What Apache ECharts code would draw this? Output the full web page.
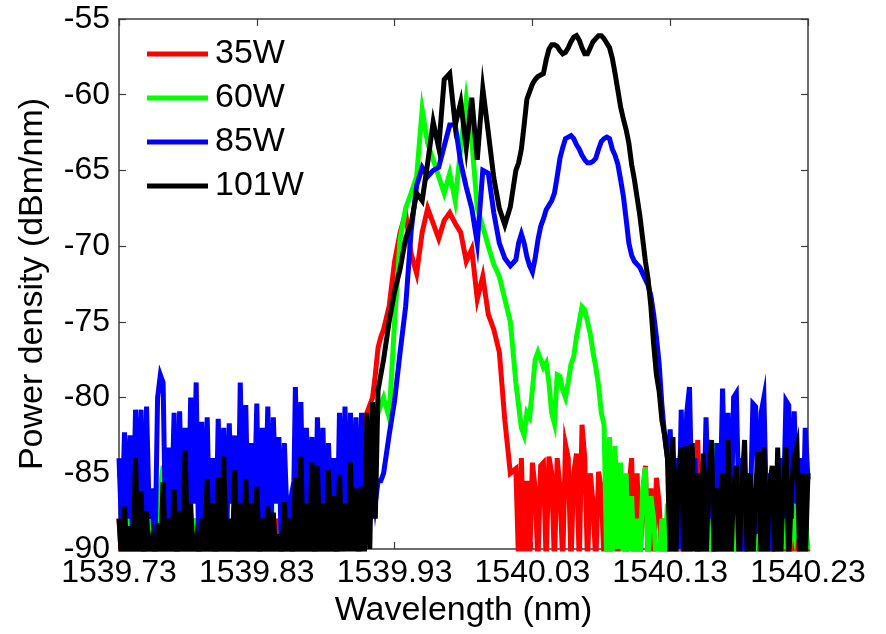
<!DOCTYPE html>
<html>
<head>
<meta charset="utf-8">
<script src="https://cdn.jsdelivr.net/npm/echarts@6/dist/echarts.min.js"></script>
<style>
html,body{margin:0;padding:0;background:#fff;}
#chart{width:886px;height:634px;}
</style>
</head>
<body>
<div id="chart"></div>
<script>
// Wavelength axis: offsets (pm) from the start wavelength 1539.73 nm
const wavelengthStartNm = 1539.73;
const wavelengthOffsetPm = [
  // segment A (fine)
  0,2,4,6,8,10,12,14,16,18,
  20,22,24,26,28,30,32,34,36,38,
  40,42,44,46,48,50,52,54,56,58,
  60,62,64,66,68,70,72,74,76,78,
  80,82,84,86,88,90,92,94,96,98,
  100,102,104,106,108,110,112,114,116,118,
  120,122,124,126,128,130,132,134,136,138,
  140,142,144,146,148,150,152,154,156,158,
  160,162,164,166,168,170,172,174,176,178,
  180,182,184,186,188,190,
  // segment B
  192,196,200,204,208,212,216,220,224,228,
  232,236,240,244,248,252,256,260,264,268,
  272,276,280,284,
  // segment C (fine)
  288,290,292,294,296,298,300,302,304,306,
  308,310,312,314,316,318,320,322,324,326,
  328,330,332,334,336,338,340,342,344,346,
  348,350,352,354,356,358,360,362,364,366,
  368,370,372,374,376,378,380,382,384,386,
  388,390,392,394,396,398,400,402,404,406,
  408,410,412,414,416,418,420,422,424,426,
  428,430,432,434,436,438,440,442,444,446,
  448,450,452,454,456,458,460,462,464,466,
  468,470,472,474,476,478,480,482,484,486,
  488,490,492,494,496,498,500
];
const xTickLabels = ['1539.73','1539.83','1539.93','1540.03','1540.13','1540.23'];
const seriesNames = ['35W','60W','85W','101W'];
const seriesColors = ['#ff0000','#00ff00','#0000ff','#000000'];

const p35W = [
  -88,-91,-89,-91,-88,-91,-87,-91,-89,-91,
  -88,-91,-89,-91,-88,-91,-89,-91,-87,-91,
  -88,-91,-89,-91,-88,-91,-89,-91,-88,-91,
  -89,-91,-88,-91,-87,-91,-89,-91,-88,-91,
  -89,-91,-88,-85.3,-91,-89,-91,-88,-91,-83,
  -91,-89,-91,-88,-91,-89,-91,-88,-91,-89,
  -91,-88,-91,-89,-91,-88,-91,-89,-91,-88,
  -91,-89,-91,-88,-91,-89,-91,-88,-91,-89,
  -88,-87,-86,-86,-85,-83.5,-84,-82,-82,-81.5,
  -81,-80.5,-80,-78.5,-76.7,-76,
  -75.5,-74,-71,-69.1,-67.8,-70.5,-71.8,-69.1,-67.5,-68.5,
  -69.5,-68.3,-67.8,-68.5,-69.1,-71,-70.2,-73.5,-72,-74.5,
  -75.5,-77,-81.5,-85,
  -84.7,-91,-84,-91,-85.5,-91,-84.3,-86,-91,-84.5,
  -84.3,-91,-83.9,-85,-91,-84,-86,-91,-83.1,-84,
  -91,-85,-83.7,-91,-81.8,-84,-91,-85,-87,-91,
  -84.9,-86,-91,-84.3,-91,-86,-88,-91,-87,-89,
  -91,-86,-84,-91,-85,-91,-87,-84.5,-91,-86,
  -91,-85.3,-87,-91,
  -88,-91,-87,-91,-89,-91,-88,-91,-87,-91,
  -88,-86,-82.8,-91,-88,-91,-89,-91,-87,-91,
  -88,-91,-88,-91,-87,-91,-89,-91,-88,-91,
  -88,-91,-87,-91,-88.5,-91,-88,-91,-87,-91,
  -89,-91,-88,-91,-87,-91,-88,-91,-89,-91,
  -88,-91,-90
];
const p60W = [
  -85,-85.5,-86,-91,-88,-91,-89,-91,-88,-91,
  -89,-91,-88,-91,-89,-86,-84.5,-91,-89,-91,
  -88,-91,-89,-91,-88,-91,-89,-91,-88,-91,
  -89,-91,-88,-91,-89,-84.5,-91,-88,-91,-89,
  -91,-88,-91,-89,-91,-88,-91,-89,-88,-83.7,
  -91,-89,-91,-88,-91.5,-84,-91,-89,-91,-88,
  -91,-89,-88,-91,-89,-91,-88,-91,-89,-91,
  -88,-91,-89,-91,-88,-91,-89,-91,-88,-91,
  -89,-91,-88,-87,-86,-86,-85,-84,-82.5,-83,
  -82,-82.5,-82,-81.5,-81,-80.5,
  -80,-81.3,-75,-69.5,-67.5,-66.5,-65.4,-61,-63.2,-64.3,
  -65.4,-66.5,-65.2,-67,-63.5,-60.3,-63,-67.5,-68.7,-70,
  -71.2,-72,-73.5,-75,
  -79,-80.5,-82,-82.5,-81,-81.3,-79.5,-77.5,-77,-77.5,
  -78,-77.7,-79,-81,-81.7,-78.5,-78.6,-79.5,-80,-79,
  -77.8,-77.3,-76,-75,-74,-74.2,-75,-75.8,-77,-78,
  -79.2,-81,-81.8,-91,-82.6,-91,-83.2,-90,-84.3,-91,
  -85,-91,-86.5,-91,-88,-91,-86,-84.6,-91,-86.5,
  -88,-91,-91,
  -88,-91,-87,-90,-86,-91,-89,-87,-91,-88,
  -86,-90,-88,-91,-87,-89,-86,-91,-88,-83,
  -86,-90,-88,-91,-87,-89,-86,-91,-88,-87,
  -90,-86,-91,-88,-89,-86,-91,-87,-88,-90,
  -86,-91,-88,-87,-90,-86,-91,-88,-89,-87,
  -90,-89,-88,-90
];
const p85W = [
  -84,-89,-82.3,-88,-82.5,-90,-80.8,-87,-80.8,-91,
  -80.6,-88,-86,-91,-80,-78.5,-79,-90,-83.3,-88,
  -81,-91,-80.9,-88,-82,-90,-80,-87,-79,-91,
  -81.6,-88,-81.3,-90,-84,-91,-81.4,-88,-82,-90,
  -81.7,-87,-82.5,-91,-79,-88,-80.5,-90,-83,-88,
  -80.4,-91,-82,-88,-80.6,-90,-81.3,-87,-82.6,-91,
  -83,-88,-87,-91,-79.3,-88,-80.3,-90,-82,-88,
  -82.6,-91,-81.3,-88,-82,-90,-83,-88,-84,-91,
  -81,-88,-80.6,-90,-81,-88,-81.3,-91,-81,-87,
  -84,-86,-85,-87,-85.5,-85.5,
  -85,-82.5,-80.2,-77,-74,-69,-66,-64.8,-65.4,-65,
  -64.8,-63.4,-62,-62,-64.5,-66.1,-67.5,-69.8,-65,-65.2,
  -67.8,-69.8,-70.8,-71.3,
  -70.9,-69.8,-69.2,-69.8,-70.7,-71.3,-71.7,-70.8,-69.6,-68.7,
  -68.2,-67.6,-67.3,-67,-66.5,-65.4,-64.2,-63.5,-62.9,-62.8,
  -62.7,-62.9,-63.3,-63.6,-64,-64.3,-64.5,-64.5,-64.4,-64.2,
  -63.6,-63.1,-62.9,-62.8,-62.9,-63.6,-64,-64.6,-65.6,-66.7,
  -68.2,-69.8,-70.6,-71,-71.2,-71.4,-71.8,-72.2,-72.6,-73.3,
  -74.5,-76,-77.8,-80.5,-82.6,
  -84,-82.1,-89,-84,-90,-80.8,-88,-81,-79.3,-88,
  -84,-91,-86,-89,-81.3,-88,-84,-91,-83,-88,
  -79.4,-87,-81,-90,-80,-79.7,-88,-84,-91,-85,
  -88,-80.4,-80.6,-89,-81,-80,-88,-85,-91,-87,
  -90,-84,-88,-80.2,-80.5,-88,-80.9,-87,-84,-90,
  -82,-85.4
];
const p101W = [
  -88,-91,-87.2,-91,-88.5,-91,-84,-91,-86.2,-91,
  -87.5,-91,-89.5,-91,-88.3,-91,-85.6,-91,-88,-91,
  -86.1,-91,-87.5,-91,-83.5,-91,-87,-91,-89.5,-91,
  -88,-91,-85.4,-91,-87,-91,-85.3,-91,-83.9,-91,
  -88,-91,-84.8,-91,-87,-91,-85.4,-91,-87,-91,
  -85.9,-91,-88,-91,-87.2,-91,-87.6,-91,-89,-91,
  -86.9,-91,-88,-91,-85.3,-91,-83.9,-91,-87,-91,
  -84.3,-91,-84.5,-91,-87,-91,-84.8,-91,-86.5,-91,
  -85.1,-91,-87,-91,-84.3,-91,-86,-91,-85.9,-91,
  -81,-90,-80.3,-88,-79.5,-78.5,
  -77.5,-75,-73,-71.5,-69.5,-68.5,-66.5,-67,-64.5,-61.8,
  -63.5,-59,-58.6,-62,-60.5,-63.5,-60.2,-64.3,-59.6,-62.5,
  -65.5,-67.5,-68.6,-67.4,
  -65,-64.5,-63.6,-62,-60.3,-59.8,-59.3,-59,-58.8,-58.7,
  -58.6,-57.7,-57,-56.7,-56.7,-56.8,-57.1,-57.3,-57.2,-56.9,
  -56.5,-56.2,-56.1,-56.4,-56.9,-57.3,-57.3,-56.9,-56.5,-56.3,
  -56.1,-56.1,-56.3,-56.6,-56.9,-57.6,-58.6,-59.7,-60.8,-61.6,
  -62.3,-63.2,-64.6,-65.6,-66.8,-68,-69.5,-71,-72.2,-74,
  -76.5,-78.5,-79.6,-81.5,-82.5,
  -84,-91,-82.6,-91,-85,-83.3,-91,-83.2,-91,-83,
  -91,-85,-91,-83.7,-91,-85,-82.8,-91,-86,-91,
  -85,-91,-82.8,-91,-86,-84.5,-91,-86,-82.8,-91,
  -85,-91,-86,-83.6,-91,-83.3,-91,-86,-84.5,-91,
  -83.3,-91,-86,-83.3,-91,-86,-84,-83.2,-91,-85,
  -91,-85
];
const seriesValues = [p35W, p60W, p85W, p101W];

const FONT = '"Liberation Sans", Arial, sans-serif';
const axisLineColor = '#3c3c3c';

const chart = echarts.init(document.getElementById('chart'), null, {renderer: 'canvas'});

const series = seriesNames.map((name, k) => ({
  name: name,
  type: 'line',
  xAxisIndex: 0,
  yAxisIndex: 0,
  showSymbol: false,
  symbol: 'none',
  clip: true,
  lineStyle: {color: seriesColors[k], width: 5, join: 'miter'},
  itemStyle: {color: seriesColors[k]},
  emphasis: {disabled: true},
  data: wavelengthOffsetPm.map((x, i) => [x, seriesValues[k][i]])
}));

const baseX = {
  type: 'value', min: 0, max: 500, interval: 100,
  axisLine: {show: true, onZero: false, lineStyle: {color: axisLineColor, width: 1.5}},
  axisTick: {show: true, inside: true, length: 7, lineStyle: {color: axisLineColor, width: 1.2}},
  splitLine: {show: false}
};
const baseY = {
  type: 'value', min: -90, max: -55, interval: 5,
  axisLine: {show: true, onZero: false, lineStyle: {color: axisLineColor, width: 1.5}},
  axisTick: {show: true, inside: true, length: 7, lineStyle: {color: axisLineColor, width: 1.2}},
  splitLine: {show: false}
};

chart.setOption({
  animation: false,
  backgroundColor: '#ffffff',
  grid: {left: 119, top: 19, right: 78, bottom: 85, containLabel: false},
  legend: {
    data: seriesNames,
    orient: 'vertical',
    left: 147,
    top: 37,
    padding: 0,
    itemGap: 10,
    itemWidth: 61,
    itemHeight: 5,
    icon: 'rect',
    selectedMode: false,
    textStyle: {fontFamily: FONT, fontSize: 34, color: '#000', lineHeight: 34, padding: [0, 0, 0, 2]}
  },
  xAxis: [
    Object.assign({}, baseX, {
      position: 'bottom',
      name: 'Wavelength (nm)',
      nameLocation: 'middle',
      nameGap: 40,
      nameTextStyle: {fontFamily: FONT, fontSize: 34, color: '#000'},
      axisLabel: {
        show: true, margin: 8, fontFamily: FONT, fontSize: 32, color: '#000',
        formatter: v => xTickLabels[Math.round(v / 100)]
      }
    }),
    Object.assign({}, baseX, {position: 'top', axisLabel: {show: false}})
  ],
  yAxis: [
    Object.assign({}, baseY, {
      position: 'left',
      name: 'Power density (dBm/nm)',
      nameLocation: 'middle',
      nameGap: 69,
      nameTextStyle: {fontFamily: FONT, fontSize: 34, color: '#000'},
      axisLabel: {show: true, margin: 9, fontFamily: FONT, fontSize: 32, color: '#000'}
    }),
    Object.assign({}, baseY, {position: 'right', axisLabel: {show: false}})
  ],
  series: series
});
</script>
</body>
</html>
